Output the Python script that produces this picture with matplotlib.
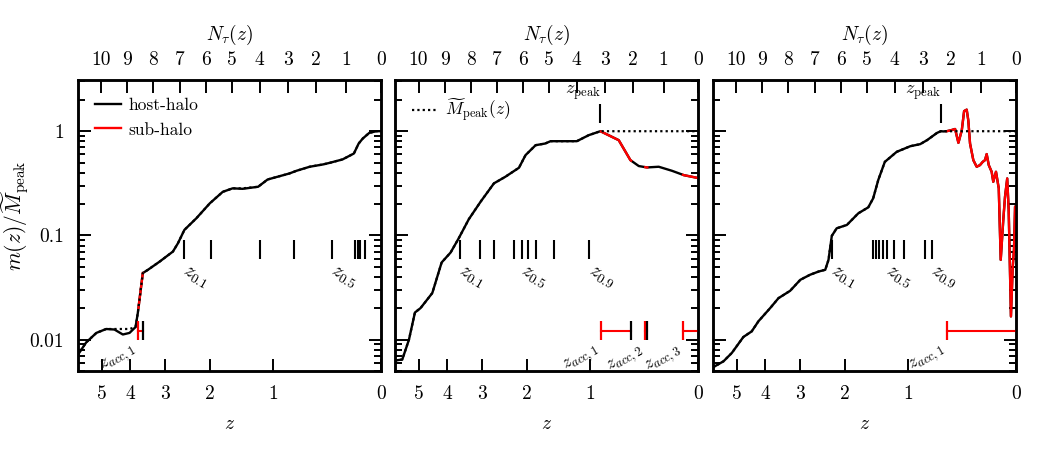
import numpy as np
import matplotlib
matplotlib.use('Agg')
import matplotlib.pyplot as plt
from matplotlib.lines import Line2D
from matplotlib.ticker import FixedLocator, FixedFormatter, NullLocator, NullFormatter, LogLocator

plt.rcParams['font.family'] = 'serif'
plt.rcParams['font.serif'] = ['cmr10']
plt.rcParams['mathtext.fontset'] = 'cm'
plt.rcParams['axes.formatter.use_mathtext'] = True

# ---- data ----
# panel 1
z_p1 = [6.0, 5.63, 5.21, 4.83, 4.53, 4.24, 4.02, 3.83, 3.76, 3.61, 3.46, 3.14, 2.80, 2.68,
        2.53, 2.27, 2.00, 1.76, 1.59, 1.43, 1.20, 1.07, 0.80, 0.72, 0.58, 0.45, 0.39, 0.28,
        0.19, 0.154, 0.124, 0.078, 0.03, 0.0]
m_p1 = [0.0071, 0.0094, 0.0116, 0.01265, 0.0125, 0.0112, 0.0116, 0.0132, 0.018, 0.0435,
        0.0468, 0.056, 0.070, 0.084, 0.113, 0.146, 0.203, 0.262, 0.283, 0.280, 0.293, 0.344,
        0.393, 0.417, 0.456, 0.480, 0.497, 0.536, 0.611, 0.762, 0.851, 0.964, 1.0, 1.0]
acc_p1 = [(3.74, 3.61)]
zf_p1 = [2.54, 1.97, 1.17, 0.743, 0.372, 0.179, 0.161, 0.144, 0.106]
zf_lab_p1 = ['0.1', None, None, None, '0.5', None, None, None, None]
zpeak_p1 = None

# panel 2
z_p2 = [6.0, 5.68, 5.40, 5.16, 4.94, 4.51, 4.19, 3.90, 3.65, 3.36, 3.04, 2.71, 2.45, 2.16,
        2.03, 1.84, 1.67, 1.58, 1.18, 1.02, 0.874, 0.666, 0.546, 0.465, 0.39, 0.289, 0.184,
        0.098, 0.02, 0.0]
m_p2 = [0.0063, 0.00645, 0.0100, 0.0182, 0.0201, 0.028, 0.055, 0.0685, 0.094, 0.143, 0.211,
        0.316, 0.365, 0.446, 0.589, 0.734, 0.762, 0.802, 0.802, 0.916, 1.0, 0.82, 0.528,
        0.463, 0.449, 0.456, 0.417, 0.379, 0.36, 0.355]
acc_p2 = [(0.866, 0.539), (0.405, 0.387), (0.103, 0.0)]
zf_p2 = [3.62, 3.06, 2.71, 2.26, 2.10, 1.99, 1.83, 1.53, 1.01]
zf_lab_p2 = ['0.1', None, None, None, '0.5', None, None, None, '0.9']
zpeak_p2 = 0.874

# panel 3
z_p3 = [6.0, 5.53, 5.19, 4.75, 4.45, 4.22, 3.84, 3.59, 3.26, 2.99, 2.75, 2.55, 2.40, 2.33,
        2.26, 2.16, 1.96, 1.75, 1.58, 1.50, 1.42, 1.32, 1.15, 0.97, 0.85, 0.77, 0.66, 0.62,
        0.594, 0.56, 0.52, 0.478, 0.447, 0.416, 0.395, 0.372, 0.358, 0.343, 0.315, 0.287,
        0.26, 0.238, 0.22, 0.207, 0.191, 0.169, 0.157, 0.137, 0.117, 0.103, 0.085, 0.073,
        0.058, 0.048, 0.033, 0.021, 0.013, 0.006, 0.0]
m_p3 = [0.0054, 0.0062, 0.00746, 0.0106, 0.012, 0.015, 0.0201, 0.025, 0.0294, 0.0375,
        0.0419, 0.045, 0.0468, 0.0583, 0.099, 0.117, 0.126, 0.163, 0.186, 0.227, 0.34, 0.508,
        0.634, 0.718, 0.751, 0.82, 0.963, 1.0, 0.995, 1.0, 1.02, 1.05, 0.773, 1.02, 1.56,
        1.61, 1.27, 0.762, 0.528, 0.456, 0.473, 0.508, 0.528, 0.603, 0.473, 0.408, 0.327,
        0.408, 0.283, 0.0583, 0.141, 0.235, 0.352, 0.175, 0.0167, 0.0503, 0.0727, 0.189, 0.19]
acc_p3 = [(0.559, 0.0)]
zf_p3 = [2.25, 1.51, 1.457, 1.406, 1.35, 1.29, 1.186, 1.05, 0.792, 0.716]
zf_lab_p3 = ['0.1', None, None, None, None, '0.5', None, None, None, '0.9']
zpeak_p3 = 0.62

# top axis: N_tau(z) tick positions in redshift
ntau_z = [5.02, 4.09, 3.31, 2.64, 2.08, 1.60, 1.18, 0.82, 0.52, 0.25, 0.0]
ntau_lab = ['10', '9', '8', '7', '6', '5', '4', '3', '2', '1', '0']
z_ticks = [5, 4, 3, 2, 1, 0]

panels = [
    (z_p1, m_p1, acc_p1, zf_p1, zf_lab_p1, zpeak_p1),
    (z_p2, m_p2, acc_p2, zf_p2, zf_lab_p2, zpeak_p2),
    (z_p3, m_p3, acc_p3, zf_p3, zf_lab_p3, zpeak_p3),
]

fw, fh = 10.43, 4.65
fig = plt.figure(figsize=(fw, fh), dpi=100)
lefts = [77.7, 395.0, 712.7]
fwd = lambda z: np.log1p(np.asarray(z, dtype=float))
inv = lambda x: np.expm1(x)

lw = 1.7
fs = 14
dots = (0, (1, 1.4))

def segment(z, m, za, ze):
    # part of the curve between accretion (za) and exit (ze) redshifts
    lz = np.log1p(z)[::-1]
    lm = np.log10(m)[::-1]
    zs = [za] + [zz for zz in z if ze < zz < za] + [ze]
    ms = 10 ** np.interp(np.log1p(zs), lz, lm)
    return zs, ms

for i, (z, m, acc, zf, zf_lab, zpeak) in enumerate(panels):
    z = np.array(z)
    m = np.array(m)
    ax = fig.add_axes([lefts[i] / 1043, 94 / 465, 303.3 / 1043, 291 / 465])
    ax.set_xscale('function', functions=(fwd, inv))
    ax.set_yscale('log')

    ax.plot(z, m, color='black', lw=lw, zorder=3)
    host = np.ones(len(z), dtype=bool)
    for za, ze in acc:
        zs, ms = segment(z, m, za, ze)
        ax.plot(zs, ms, color='red', lw=lw, zorder=4)
        host &= ~((z <= za) & (z > ze))
    # peak mass reached as a host
    mpk = np.maximum.accumulate(np.where(host, m, 0.0))
    ax.plot(z, mpk, color='black', lw=1.6, ls=dots, zorder=5)

    # formation-time markers
    ax.vlines(zf, 0.059, 0.09, color='black', lw=1.5, zorder=3)
    for zz, lab in zip(zf, zf_lab):
        if lab:
            ax.annotate(r'$z_{%s}$' % lab, (zz, 0.059), xytext=(3, -2),
                        textcoords='offset points', ha='left', va='top',
                        rotation=-30, rotation_mode='anchor', fontsize=14)

    # accretion intervals
    yc, y0, y1 = 0.0122, 0.00985, 0.01496
    for k, (za, ze) in enumerate(acc):
        ax.plot([za, ze], [yc, yc], color='red', lw=1.5, zorder=4)
        ax.vlines(za, y0, y1, color='red', lw=1.6, zorder=5)
        if ze > 0:
            ax.vlines(ze, y0, y1, color='black', lw=1.6, zorder=5)
        ax.annotate(r'$z_{acc,%d}$' % (k + 1), (za, y0), xytext=(-5, -1),
                    textcoords='offset points', ha='right', va='top',
                    rotation=30, rotation_mode='anchor', fontsize=13)

    if zpeak is not None:
        ax.vlines(zpeak, 1.19, 1.84, color='black', lw=1.5, zorder=5)
        ax.text(zpeak, 1.9, r'$z_{\rm peak}$', ha='right', va='bottom', fontsize=13)

    ax.set_xlim(6.0, 0.0)
    ax.set_ylim(0.005, 3.1)
    ax.xaxis.set_major_locator(FixedLocator(z_ticks))
    ax.xaxis.set_major_formatter(FixedFormatter([str(t) for t in z_ticks]))
    ax.xaxis.set_minor_locator(NullLocator())
    ax.yaxis.set_major_locator(FixedLocator([0.01, 0.1, 1]))
    ax.yaxis.set_minor_locator(LogLocator(base=10, subs=np.arange(2, 10)))
    ax.yaxis.set_minor_formatter(NullFormatter())
    if i == 0:
        ax.yaxis.set_major_formatter(FixedFormatter(['0.01', '0.1', '1']))
        ax.set_ylabel(r'$m(z)/\widetilde{M}_{\rm peak}$', fontsize=15.5)
        ax.yaxis.set_label_coords(-0.155, 0.535)
    else:
        ax.yaxis.set_major_formatter(NullFormatter())
    ax.set_xlabel(r'$z$', fontsize=fs, labelpad=9)
    ax.tick_params(axis='both', which='both', direction='in', labelsize=fs, width=1.4,
                   top=False, right=True, pad=10)
    ax.tick_params(axis='both', which='major', length=9)
    ax.tick_params(axis='y', which='minor', length=5)
    for sp in ax.spines.values():
        sp.set_linewidth(1.8)

    top = ax.twiny()
    top.set_xscale('function', functions=(fwd, inv))
    top.set_xlim(6.0, 0.0)
    top.xaxis.set_major_locator(FixedLocator(ntau_z))
    top.xaxis.set_major_formatter(FixedFormatter(ntau_lab))
    top.xaxis.set_minor_locator(NullLocator())
    top.tick_params(axis='x', direction='in', labelsize=fs, width=1.4, length=9, pad=8)
    top.set_xlabel(r'$N_{\tau}(z)$', fontsize=fs, labelpad=8)
    for sp in top.spines.values():
        sp.set_linewidth(1.8)

    if i == 0:
        h = [Line2D([], [], color='black', lw=lw), Line2D([], [], color='red', lw=lw)]
        ax.legend(h, ['host-halo', 'sub-halo'], loc='upper left', frameon=False,
                  fontsize=12.5, handlelength=1.5, handletextpad=0.4,
                  borderaxespad=0.6, labelspacing=0.55)
    elif i == 1:
        h = [Line2D([], [], color='black', lw=1.6, ls=dots)]
        ax.legend(h, [r'$\widetilde{M}_{\rm peak}(z)$'], loc='upper left', frameon=False,
                  fontsize=12.5, handlelength=1.5, handletextpad=0.4, borderaxespad=0.6)

fig.savefig('out.png', dpi=100)
